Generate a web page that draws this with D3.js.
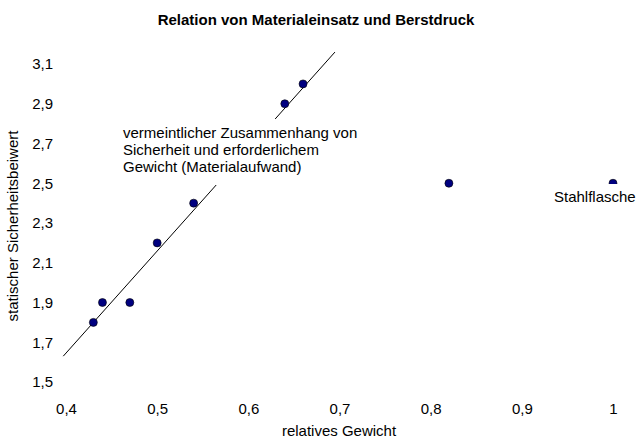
<!DOCTYPE html>
<html>
<head>
<meta charset="utf-8">
<script src="https://cdn.jsdelivr.net/npm/d3@7.9.0/dist/d3.min.js"></script>
<style>
  body { margin: 0; background: #fff; }
  svg { display: block; font-family: "Liberation Sans", Arial, sans-serif; }
</style>
</head>
<body>
<svg id="chart" width="641" height="436"></svg>
<script>
// data
const gewicht = [0.43, 0.44, 0.47, 0.50, 0.54, 0.64, 0.66, 0.82, 1.0];
const beiwert = [1.8, 1.9, 1.9, 2.2, 2.4, 2.9, 3.0, 2.5, 2.5];
const trendX = [0.397, 0.695];
const trendY = [1.63, 3.16];
const xTicks = [0.4, 0.5, 0.6, 0.7, 0.8, 0.9, 1];
const yTicks = [1.5, 1.7, 1.9, 2.1, 2.3, 2.5, 2.7, 2.9, 3.1];
const noteLines = ["vermeintlicher Zusammenhang von", "Sicherheit und erforderlichem", "Gewicht (Materialaufwand)"];

const svg = d3.select("#chart");
const fmt = d => String(d).replace(".", ",");

const x = d3.scaleLinear().domain([0.4, 1]).range([66, 613]);
const y = d3.scaleLinear().domain([1.5, 3.1]).range([382, 64]);

// title
svg.append("text")
  .attr("x", 316).attr("y", 25)
  .attr("text-anchor", "middle")
  .attr("font-size", 15).attr("font-weight", "bold")
  .text("Relation von Materialeinsatz und Berstdruck");

// axes without lines, only labels
const xAxis = svg.append("g").attr("transform", "translate(0,400)")
  .call(d3.axisBottom(x).tickValues(xTicks).tickFormat(fmt).tickSize(0));
xAxis.select(".domain").remove();
xAxis.selectAll("text").attr("font-size", 15).attr("fill", "#000")
  .attr("font-family", "Liberation Sans, Arial, sans-serif");

const yAxis = svg.append("g").attr("transform", "translate(56,0)")
  .call(d3.axisLeft(y).tickValues(yTicks).tickFormat(fmt).tickSize(0));
yAxis.select(".domain").remove();
yAxis.selectAll("text").attr("font-size", 15).attr("fill", "#000")
  .attr("font-family", "Liberation Sans, Arial, sans-serif");

// axis titles
svg.append("text")
  .attr("x", 339).attr("y", 436)
  .attr("text-anchor", "middle").attr("font-size", 15)
  .text("relatives Gewicht");

svg.append("text")
  .attr("transform", "translate(18,226) rotate(-90)")
  .attr("text-anchor", "middle").attr("font-size", 15)
  .text("statischer Sicherheitsbeiwert");

// trend line
svg.append("line")
  .attr("x1", x(trendX[0])).attr("y1", y(trendY[0]))
  .attr("x2", x(trendX[1])).attr("y2", y(trendY[1]))
  .attr("stroke", "#000").attr("stroke-width", 1);

// points
svg.selectAll("circle.pt")
  .data(gewicht)
  .join("circle")
  .attr("class", "pt")
  .attr("cx", d => x(d))
  .attr("cy", (d, i) => y(beiwert[i]))
  .attr("r", 4)
  .attr("fill", "#000080")
  .attr("stroke", "#000")
  .attr("stroke-width", 0.6);

// annotation over the trend line
svg.append("rect")
  .attr("x", 120).attr("y", 119).attr("width", 250).attr("height", 66)
  .attr("fill", "#fff");
const note = svg.append("text")
  .attr("x", 123).attr("y", 138).attr("font-size", 15);
note.selectAll("tspan")
  .data(noteLines)
  .join("tspan")
  .attr("x", 123)
  .attr("dy", (d, i) => i ? 17 : 0)
  .text(d => d);

// label for the steel bottle
svg.append("rect")
  .attr("x", 550).attr("y", 184).attr("width", 91).attr("height", 22)
  .attr("fill", "#fff");
svg.append("text")
  .attr("x", 554).attr("y", 202).attr("font-size", 15)
  .text("Stahlflasche");
</script>
</body>
</html>
